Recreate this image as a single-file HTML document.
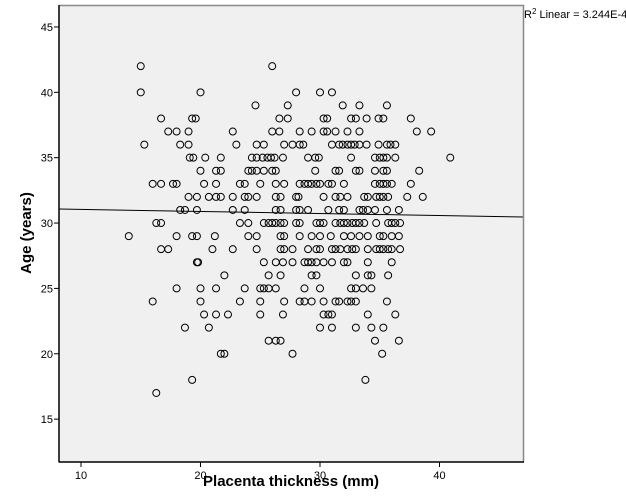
<!DOCTYPE html>
<html><head><meta charset="utf-8"><style>
body{margin:0;background:#fff;}
svg{display:block;font-family:"Liberation Sans",Arial,sans-serif;}
</style></head><body>
<svg id="chart" width="626" height="501" xmlns="http://www.w3.org/2000/svg">
<rect x="59" y="5" width="465" height="457" fill="#f0f0f0"/>
<g id="marks"></g>
<g id="axes"></g>
<text x="291" y="486" text-anchor="middle" font-size="15" font-weight="bold">Placenta thickness (mm)</text>
<text transform="translate(31,233) rotate(-90)" text-anchor="middle" font-size="15" font-weight="bold">Age (years)</text>
<text x="524" y="18" font-size="11">R<tspan font-size="8" dy="-4">2</tspan><tspan dy="4"> Linear = 3.244E-4</tspan></text>
</svg>
<script>
const xTicks=[10,20,30,40];
const yTicks=[15,20,25,30,35,40,45];
const fitIntercept=31.2;
const fitSlope=-0.0157;
const rows={
42:[15.0,26.0],
40:[15.0,20.0,28.0,30.0,31.0],
39:[24.6,27.3,31.9,33.3,35.6],
38:[16.7,19.3,19.6,26.6,27.3,30.3,30.6,32.6,33.0,33.9,34.9,35.3,37.6],
37:[17.3,18.0,19.0,22.7,26.0,26.6,28.3,29.3,30.3,30.6,31.3,32.3,33.3,38.1,39.3],
36:[15.3,18.3,19.0,23.0,24.7,25.3,27.0,27.7,28.3,28.6,31.0,31.6,31.9,32.3,32.6,32.9,33.3,33.9,34.9,35.6,35.9,36.3],
35:[19.1,19.4,20.4,21.7,24.3,24.7,25.2,25.6,25.9,26.2,26.9,29.0,29.6,29.9,32.6,34.6,35.0,35.3,35.6,36.3,40.9],
34:[20.0,21.3,21.7,24.0,24.3,24.7,25.3,26.0,26.3,29.6,31.3,31.6,33.0,33.3,34.6,35.3,35.6,38.3],
33:[16.0,16.7,17.7,18.0,20.3,21.3,23.3,23.7,25.0,26.3,27.0,28.3,28.7,29.0,29.3,29.7,30.0,30.7,31.0,32.0,34.6,35.0,35.3,35.6,36.0,37.6],
32:[19.0,19.7,20.7,21.3,21.7,22.7,23.7,24.0,24.7,26.3,26.7,28.0,28.2,30.3,31.3,31.7,32.3,33.7,34.0,34.7,35.0,35.3,35.7,37.3,38.6],
31:[18.3,18.7,19.7,22.7,23.7,26.3,26.7,28.0,28.3,29.0,30.7,31.6,32.0,33.3,33.6,34.0,34.6,35.6,36.6],
30:[16.3,16.7,23.3,24.0,25.3,25.7,26.0,26.3,26.7,27.0,28.0,28.3,29.7,30.0,30.3,31.3,31.7,32.0,32.3,32.7,33.0,33.3,33.7,34.7,35.7,36.0,36.3,36.7],
29:[14.0,18.0,19.3,19.7,21.2,24.0,24.7,26.7,27.0,28.3,29.3,30.0,30.9,32.0,32.6,33.3,34.0,35.0,35.3,36.0,36.6],
28:[16.7,17.3,21.0,22.7,24.7,26.7,27.0,27.7,29.0,29.7,30.0,31.0,31.3,31.7,32.3,32.7,33.0,34.0,34.7,35.0,35.3,35.7,36.0,36.7],
27:[19.7,19.8,25.3,26.3,26.9,27.7,28.7,29.0,29.3,29.7,30.3,31.0,32.0,32.3,34.0,36.0],
26:[22.0,25.7,26.7,29.3,29.7,33.0,34.0,34.3,35.7],
25:[18.0,20.0,21.3,23.7,25.0,25.3,25.7,26.3,28.7,30.0,32.6,33.0,33.6,34.3],
24:[16.0,20.0,23.3,25.0,27.0,28.3,28.7,29.3,30.3,31.3,31.6,32.3,32.6,33.0,35.6],
23:[20.3,21.3,22.3,25.0,26.9,30.3,30.7,31.0,34.0,36.3],
22:[18.7,20.7,30.0,31.0,33.0,34.3,35.3],
21:[25.7,26.3,26.7,34.6,36.6],
20:[21.7,22.0,27.7,35.2],
18:[19.3,33.8],
17:[16.3]
};
const L=59,R=524,T=5,B=462;
const xMin=8.16,xMax=47.07,yMin=11.72,yMax=46.68;
const sx=v=>L+(v-xMin)/(xMax-xMin)*(R-L);
const sy=v=>B-(v-yMin)/(yMax-yMin)*(B-T);
const NS="http://www.w3.org/2000/svg";
const mk=(p,t,a)=>{const e=document.createElementNS(NS,t);for(const k in a)e.setAttribute(k,a[k]);p.appendChild(e);return e;};
const marks=document.getElementById('marks');
const axes=document.getElementById('axes');
for(const age in rows){
  rows[age].forEach(x=>{
    const c=mk(marks,'circle',{cx:sx(x),cy:sy(+age),r:3.5,fill:'none',stroke:'#000','stroke-width':1});
    
    
  });
}
const fl=mk(marks,'line',{x1:sx(xMin),y1:sy(fitIntercept+fitSlope*xMin),x2:sx(xMax),y2:sy(fitIntercept+fitSlope*xMax),stroke:'#000','stroke-width':1});


const fr=mk(axes,'path',{d:`M${L} ${T+0.5}H${R-0.5}V${B}`,fill:'none',stroke:'#888','stroke-width':1.5});


const ya=mk(axes,'line',{x1:L,y1:T,x2:L,y2:B+0.5,stroke:'#000','stroke-width':1.5});


const xa=mk(axes,'line',{x1:L,y1:B,x2:R,y2:B,stroke:'#000','stroke-width':1.5});


yTicks.forEach(v=>{
  const t=mk(axes,'line',{x1:L-5,y1:sy(v),x2:L,y2:sy(v),stroke:'#000'});
  
  
  const l=mk(axes,'text',{x:L-6,y:sy(v)+4,'text-anchor':'end','font-size':11});
  l.textContent=v;
  
  
});
xTicks.forEach(v=>{
  const t=mk(axes,'line',{x1:sx(v),y1:B,x2:sx(v),y2:B+5,stroke:'#000'});
  
  
  const l=mk(axes,'text',{x:sx(v),y:B+17,'text-anchor':'middle','font-size':11});
  l.textContent=v;
  
  
});
</script>
</body></html>
